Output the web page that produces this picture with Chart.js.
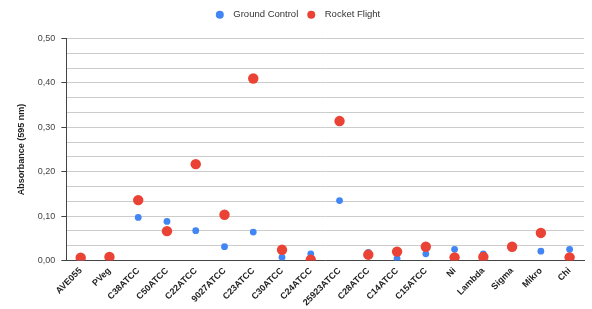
<!DOCTYPE html>
<html>
<head>
<meta charset="utf-8">
<script src="https://cdn.jsdelivr.net/npm/chart.js@4"></script>
<style>
  html, body { margin: 0; padding: 0; background: #fff; }
  #wrap { width: 592px; height: 309px; }
</style>
</head>
<body>
<div id="wrap"><canvas id="absorbance-chart"></canvas></div>
<script>
const STRAINS = ['AVE055', 'PVeg', 'C38ATCC', 'C50ATCC', 'C22ATCC', '9027ATCC', 'C23ATCC', 'C30ATCC', 'C24ATCC',
    '25923ATCC', 'C28ATCC', 'C14ATCC', 'C15ATCC', 'Ni', 'Lambda', 'Sigma', 'Mikro', 'Chi'];
const GROUND_CONTROL = [0.005, 0.008, 0.097, 0.088, 0.067, 0.031, 0.064, 0.007, 0.015,
    0.135, 0.018, 0.004, 0.015, 0.025, 0.015, 0.030, 0.021, 0.025];
const ROCKET_FLIGHT = [0.006, 0.008, 0.136, 0.066, 0.217, 0.103, 0.410, 0.024, 0.002,
    0.314, 0.013, 0.020, 0.031, 0.007, 0.008, 0.031, 0.062, 0.007];
const Y_MAX = 0.5;
const Y_STEP = 0.1 / 3;

const FONT = 'Liberation Sans, Arial, sans-serif';

function isMajor(v) {
    return Math.abs(v * 10 - Math.round(v * 10)) < 1e-6;
}

function initDataset(label, values, color, radius, order) {
    return {
        label: label,
        data: values,
        backgroundColor: color,
        borderColor: color,
        borderWidth: 0,
        pointRadius: radius,
        pointHoverRadius: radius,
        showLine: false,
        order: order
    };
}

// extra room under the legend, and nudge it a bit to the right
const legendTweak = {
    id: 'legendTweak',
    beforeInit(chart) {
        const fit = chart.legend.fit;
        chart.legend.fit = function () {
            fit.call(this);
            this.height += 9;
        };
    },
    afterLayout(chart) {
        chart.legend.left += 6;
        chart.legend.right += 6;
    }
};

new Chart(document.getElementById('absorbance-chart'), {
    type: 'line',
    data: {
        labels: STRAINS,
        datasets: [
            initDataset('Ground Control', GROUND_CONTROL, '#4285F4', 3.4, 1),
            initDataset('Rocket Flight', ROCKET_FLIGHT, '#EA4335', 5.2, 0)
        ]
    },
    plugins: [legendTweak],
    options: {
        responsive: true,
        maintainAspectRatio: false,
        animation: false,
        layout: { padding: { left: 0, right: 8, top: 1, bottom: -4 } },
        plugins: {
            tooltip: { enabled: false },
            legend: {
                position: 'top',
                labels: {
                    usePointStyle: true,
                    pointStyle: 'circle',
                    pointStyleWidth: 8,
                    boxHeight: 5.66,
                    padding: 9,
                    color: '#333',
                    font: { family: FONT, size: 9.5 },
                    sort: (a, b) => a.datasetIndex - b.datasetIndex,
                    generateLabels: chart => Chart.defaults.plugins.legend.labels.generateLabels(chart)
                        .map(item => Object.assign(item, { text: '\u2002' + item.text }))
                }
            }
        },
        scales: {
            x: {
                offset: true,
                grid: { display: false, drawTicks: false },
                border: { color: '#444', width: 1 },
                ticks: {
                    autoSkip: false,
                    maxRotation: 45,
                    minRotation: 45,
                    color: '#222',
                    padding: 5,
                    font: { family: FONT, size: 9, weight: 'bold' }
                }
            },
            y: {
                min: 0,
                max: Y_MAX,
                border: { color: '#444', width: 1 },
                grid: {
                    color: '#ccc',
                    tickLength: 5,
                    tickColor: ctx => isMajor(ctx.tick.value) ? '#444' : 'rgba(0,0,0,0)'
                },
                ticks: {
                    stepSize: Y_STEP,
                    autoSkip: false,
                    color: '#444',
                    padding: 6,
                    font: { family: FONT, size: 9 },
                    callback: v => isMajor(v) ? v.toFixed(2).replace('.', ',') : ''
                },
                title: {
                    display: true,
                    text: 'Absorbance (595 nm)',
                    color: '#222',
                    padding: { top: 16, bottom: 5 },
                    font: { family: FONT, size: 9, weight: 'bold' }
                }
            }
        }
    }
});
</script>
</body>
</html>
